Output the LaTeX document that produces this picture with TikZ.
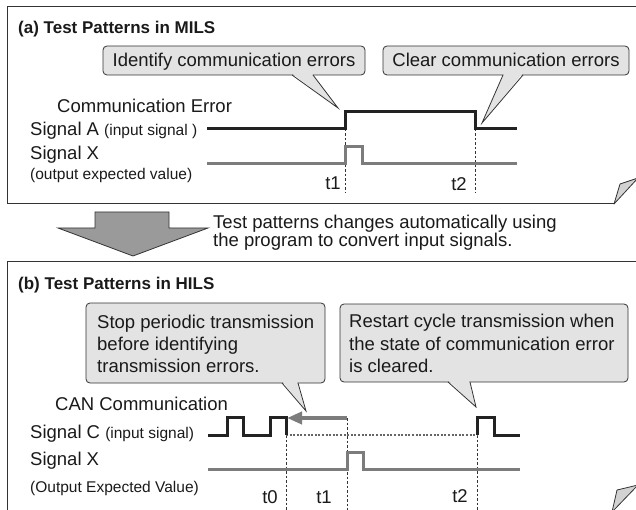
\documentclass[tikz,border=0pt]{standalone}
\usepackage{fontspec}
\setmainfont{Liberation Sans}
\usetikzlibrary{arrows.meta}

\definecolor{framecol}{HTML}{333333}
\definecolor{calloutfill}{HTML}{E3E3E3}
\definecolor{foldfill}{HTML}{D2D2D2}
\definecolor{arrowfill}{HTML}{9A9A9A}
\definecolor{sigdark}{HTML}{222222}
\definecolor{siggray}{HTML}{7C7C7C}
\definecolor{idlecol}{HTML}{666666}
\definecolor{inkcol}{HTML}{1A1A1A}

\newcommand\mainsz{\fontsize{18.5}{22}\selectfont}
\newcommand\smallsz{\fontsize{15.5}{18}\selectfont}
\newcommand\titlesz{\fontsize{17}{20}\selectfont\bfseries}

\begin{document}
\begin{tikzpicture}[x=1pt,y=-1pt,
  panel/.style={draw=framecol,line width=1pt},
  fold/.style={draw=framecol,fill=foldfill,line width=0.8pt,line join=round},
  callout/.style={draw=framecol,fill=calloutfill,line width=0.8pt,rounded corners=4pt},
  pointerfill/.style={fill=calloutfill},
  pointerline/.style={draw=framecol,line width=0.8pt},
  lbl/.style={anchor=base west,inner sep=0pt,font=\mainsz,text=inkcol},
  ctext/.style={anchor=base,inner sep=0pt,font=\mainsz,text=inkcol},
  ttl/.style={anchor=base west,inner sep=0pt,font=\titlesz,text=inkcol},
  tlab/.style={anchor=base,inner sep=0pt,font=\mainsz,text=inkcol},
  sigA/.style={draw=sigdark,line width=3pt,line join=miter},
  sigX/.style={draw=siggray,line width=3pt,line join=miter},
  timeline/.style={draw=framecol,line width=0.7pt,dash pattern=on 2.5pt off 2pt},
  idle/.style={draw=idlecol,line width=2.2pt,dash pattern=on 2pt off 1.6pt},
  backarrow/.style={draw=siggray,line width=4pt,-{Triangle[length=15pt,width=12pt]}},
  blockarrow/.style={draw=framecol,fill=arrowfill,line width=0.8pt,line join=miter}
]
\useasboundingbox (0,0) rectangle (636,510);
\fill[white] (0,0) rectangle (636,510);
\clip (0,0) rectangle (636,510);

% ---------------- panel (a) ----------------
\draw[panel] (645,7) -- (7,7) -- (7,204) -- (614,204);
\filldraw[fold] (614,204) -- (620,184) -- (638,178) -- cycle;
\node[ttl] (titleA) at (18,34) {(a) Test Patterns in MILS};

% callouts
\filldraw[callout] (103,46) rectangle (365,75);
\fill[pointerfill] (292.8,74) -- (312.2,74) -- (338,108) -- cycle;
\draw[pointerline] (292,75) -- (338,108) -- (313,75);
\node[ctext] (identify) at (234,67) {Identify communication errors};

\filldraw[callout] (383,46) rectangle (629,75);
\fill[pointerfill] (503.8,74) -- (522.2,74) -- (482,123) -- cycle;
\draw[pointerline] (503,75) -- (482,123) -- (523,75);
\node[ctext] (clear) at (506,67) {Clear communication errors};

% labels
\node[lbl] (commerr) at (57,113) {Communication Error};
\node[lbl] (sigAlbl) at (30,136) {Signal A {\smallsz(input signal )}};
\node[lbl] (sigXlbl) at (30,160) {Signal X};
\node[lbl,font=\smallsz] (sigXsub) at (30,180) {(output expected value)};

% time marks
\coordinate (a1) at (345,129);
\coordinate (a2) at (475,129);
\draw[timeline] (a1) -- (345,193);
\draw[timeline] (a2) -- (475,193);
\node[tlab] (at1) at (333,190) {t1};
\node[tlab] (at2) at (459,191) {t2};

% traces
\draw[sigA] (207,129) -- (a1) -- (345,112) -- (475,112) -- (a2) -- (517,129);
\draw[sigX] (207,164) -- (345,164) -- (345,147) -- (362,147) -- (362,164) -- (517,164);

% ---------------- transition arrow ----------------
\filldraw[blockarrow] (95,212) -- (169,212) -- (169,228) -- (208,228)
  -- (133,256) -- (58,228) -- (95,228) -- cycle;
\node[lbl] (note1) at (213,229) {Test patterns changes automatically using};
\node[lbl] (note2) at (213,247) {the program to convert input signals.};

% ---------------- panel (b) ----------------
\draw[panel] (645,262) -- (7,262) -- (7,514) -- (612,514);
\filldraw[fold] (612,512) -- (617,490) -- (638,485) -- cycle;
\node[ttl] (titleB) at (18,289) {(b) Test Patterns in HILS};

% callouts
\filldraw[callout] (86,303) rectangle (325,383);
\fill[pointerfill] (282.8,382) -- (297.2,382) -- (306,411) -- cycle;
\draw[pointerline] (282,383) -- (306,411) -- (298,383);
\node[lbl] (stop1) at (97,328) {Stop periodic transmission};
\node[lbl] (stop2) at (97,350) {before identifying};
\node[lbl] (stop3) at (97,372) {transmission errors.};

\filldraw[callout] (340,304) rectangle (628,382);
\fill[pointerfill] (448.8,381) -- (469.2,381) -- (476,407) -- cycle;
\draw[pointerline] (448,382) -- (476,407) -- (470,382);
\node[lbl] (rest1) at (349,327) {Restart cycle transmission when};
\node[lbl] (rest2) at (349,350) {the state of communication error};
\node[lbl] (rest3) at (349,372) {is cleared.};

% labels
\node[lbl] (canlbl) at (55,410) {CAN Communication};
\node[lbl] (sigClbl) at (30,438) {Signal C {\smallsz(input signal)}};
\node[lbl] (sigXlblb) at (30,465) {Signal X};
\node[lbl,font=\smallsz] (sigXsubb) at (30,492) {(Output Expected Value)};

% time marks
\coordinate (b0) at (286,435);
\coordinate (b1) at (347,418);
\coordinate (b2) at (477,435);
\draw[timeline] (b0) -- (286,512);
\draw[timeline] (b1) -- (347,512);
\draw[timeline] (b2) -- (477,512);
\node[tlab] (bt0) at (270,503) {t0};
\node[tlab] (bt1) at (324,503) {t1};
\node[tlab] (bt2) at (460,502) {t2};

% traces
\draw[idle] (b0) -- (b2);
\draw[sigA] (208,435) -- (227,435) -- (227,417) -- (243,417) -- (243,435)
  -- (270,435) -- (270,417) -- (286,417) -- (b0);
\draw[sigA] (b2) -- (477,417) -- (494,417) -- (494,435) -- (520,435);
\draw[sigX] (208,469) -- (347,469) -- (347,452) -- (363,452) -- (363,469) -- (520,469);
\coordinate (b0top) at (287,418);
\draw[backarrow] (b1) -- (b0top);
\end{tikzpicture}
\end{document}
